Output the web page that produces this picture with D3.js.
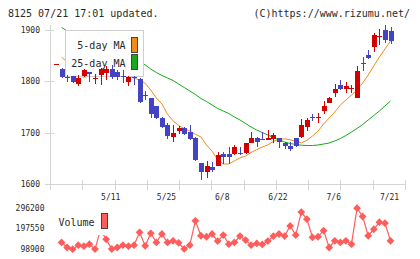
<!DOCTYPE html>
<html>
<head>
<meta charset="utf-8">
<script src="https://cdn.jsdelivr.net/npm/d3@7"></script>
<style>
  body { margin: 0; background: #fff; }
  svg { display: block; }
  text { font-family: "DejaVu Sans Mono", monospace; fill: #2a2a2a; }
</style>
</head>
<body>
<svg></svg>
<script>
const w = 420
const h = 259

// trading days (2023)
const dates = ['4/24','4/25','4/26','4/27','4/28','5/1','5/2','5/8','5/9','5/10',
  '5/11','5/12','5/15','5/16','5/17','5/18','5/19','5/22','5/23','5/24',
  '5/25','5/26','5/29','5/30','5/31','6/1','6/2','6/5','6/6','6/7',
  '6/8','6/9','6/12','6/13','6/14','6/15','6/16','6/19','6/20','6/21',
  '6/22','6/23','6/26','6/27','6/28','6/29','6/30','7/3','7/4','7/5',
  '7/6','7/7','7/10','7/11','7/12','7/13','7/14','7/18','7/19','7/20',
  '7/21']
const open = [1834,1825,1809,1810,1795,1810,1819,1805,1812,1816,
  1825,1819,1810,1799,1809,1804,1774,1767,1751,1729,
  1715,1692,1703,1710,1701,1690,1640,1624,1634,1636,
  1658,1658,1658,1661,1660,1680,1690,1688,1686,1688,
  1689,1680,1675,1689,1692,1712,1731,1730,1742,1758,
  1778,1793,1785,1786,1768,1836,1851,1866,1887,1900,
  1898]
const high = [1834,1826,1813,1811,1812,1824,1819,1814,1826,1830,
  1831,1822,1822,1810,1810,1806,1781,1768,1752,1730,
  1718,1715,1713,1712,1715,1691,1641,1645,1643,1663,
  1663,1673,1676,1673,1680,1702,1692,1701,1705,1699,
  1690,1682,1682,1690,1727,1729,1736,1739,1762,1770,
  1795,1803,1799,1793,1829,1848,1861,1895,1902,1910,
  1906]
const low = [1834,1807,1798,1797,1790,1808,1798,1795,1792,1802,
  1805,1802,1797,1790,1793,1758,1763,1728,1727,1710,
  1688,1682,1697,1696,1686,1645,1608,1612,1624,1635,
  1638,1639,1657,1656,1659,1679,1673,1686,1685,1679,
  1670,1668,1664,1672,1690,1704,1723,1718,1736,1757,
  1770,1783,1778,1777,1767,1821,1843,1858,1871,1874,
  1873]
const close = [1834,1808,1807,1799,1806,1822,1814,1807,1825,1825,
  1808,1809,1808,1809,1806,1760,1772,1736,1728,1712,
  1693,1700,1710,1697,1688,1647,1624,1636,1627,1656,
  1652,1653,1673,1660,1679,1690,1682,1687,1690,1695,
  1682,1675,1668,1675,1715,1725,1729,1731,1752,1768,
  1785,1785,1791,1787,1820,1834,1846,1890,1888,1880,
  1879]
const ma5 = [null,1847,1838,1826,1811,1808,1810,1810,1815,1819,
  1816,1815,1815,1811,1806,1803,1796,1783,1767.5,1756,
  1736,1723,1714,1708,1703,1697,1691.5,1676,1664,1647,
  1639,1639,1645,1651,1654.5,1661.4,1667,1672,1676,1683,
  1687,1688,1686,1683,1680,1685,1693.5,1703,1717,1728.6,
  1740,1754,1763.6,1773.4,1783,1796.7,1812.3,1830,1847.4,1863,
  1878.6]
const ma25 = [null,1905,1898,1893,1889,1885,1881,1877,1872,1868,
  1863,1858,1853,1848,1843,1837.7,1831.9,1824,1817.2,1811.4,
  1806.5,1801.6,1794.8,1788,1781.2,1774.4,1766.6,1760.7,1753.9,1747.1,
  1742.2,1737.3,1730.5,1724.7,1717.9,1711,1705.2,1700.3,1695.5,1690.6,
  1685.7,1681.8,1678.9,1677,1675.6,1675,1675,1676,1677.9,1679.9,
  1683.8,1688.6,1694.5,1701.3,1708.1,1715.9,1724.7,1733.4,1742.2,1751.9,
  1761.7]
const volume = [null,131500,107200,98900,118400,113500,123300,99500,191500,146200,
  99800,107200,118400,113500,118400,180300,115000,175400,131500,172000,
  131500,139300,129600,100200,118400,235300,163700,158800,172000,137900,
  167100,123300,131500,162200,142700,118400,126700,121800,137900,162200,
  172000,162200,211000,167100,277700,243600,155900,158800,188100,107200,
  139300,131500,139300,123300,296200,256300,163700,194900,229000,224100,
  139300]
const dateLabels = ['5/11','5/25','6/8','6/22','7/6','7/21']
const priceTicks = [1600,1700,1800,1900]
const volTicks = [98900,197550,296200]

const upColor = '#d40000'
const downColor = '#4343c3'
const ma5Color = '#f28c18'
const ma25Color = '#18a818'
const volColor = '#ff5c5c'
const axisColor = '#d4d4d4'

const svg = d3.select('svg')
  .attr('width', w)
  .attr('height', h)

const data = dates.map((d, i) => ({
  date: d, o: open[i], h: high[i], l: low[i], c: close[i],
  ma5: ma5[i], ma25: ma25[i], vol: volume[i]
}))

const x = d3.scaleBand()
  .domain(dates)
  .range([53.2, 393.3])
  .padding(0)
const cx = d => x(d) + x.bandwidth() / 2

const y = d3.scaleLinear()
  .domain(d3.extent(priceTicks))
  .range([184, 30])

const yVol = d3.scaleLinear()
  .domain(d3.extent(volTicks))
  .range([249.2, 208.2])

// header
svg.append('text')
  .attr('x', 8).attr('y', 17)
  .style('font-size', '10px')
  .text('8125 07/21 17:01 updated.')
svg.append('text')
  .attr('x', 410).attr('y', 17)
  .attr('text-anchor', 'end')
  .style('font-size', '10px')
  .text('(C)https://www.rizumu.net/')

// axes
const axes = svg.append('g')
  .attr('stroke', axisColor)
  .attr('shape-rendering', 'crispEdges')
axes.append('line')
  .attr('x1', 50.5).attr('x2', 50.5)
  .attr('y1', 25).attr('y2', 190)
axes.append('line')
  .attr('x1', 45).attr('x2', 406)
  .attr('y1', 184.5).attr('y2', 184.5)
axes.selectAll('.yt').data(priceTicks)
  .enter().append('line')
  .attr('x1', 45).attr('x2', 54)
  .attr('y1', d => Math.round(y(d)) + 0.5)
  .attr('y2', d => Math.round(y(d)) + 0.5)

const xTick = d3.scaleLinear().domain([0, 11]).range([50, 405])
axes.selectAll('.xt').data(d3.range(1, 12))
  .enter().append('line')
  .attr('x1', d => Math.round(xTick(d)) + 0.5)
  .attr('x2', d => Math.round(xTick(d)) + 0.5)
  .attr('y1', 180).attr('y2', 190)

svg.selectAll('.ylab').data(priceTicks)
  .enter().append('text')
  .attr('x', 40)
  .attr('y', d => y(d) + 3)
  .attr('text-anchor', 'end')
  .style('font-size', '8px')
  .text(d => d)

svg.selectAll('.xlab').data(dateLabels)
  .enter().append('text')
  .attr('x', d => cx(d) - 1)
  .attr('y', 200)
  .attr('text-anchor', 'middle')
  .style('font-size', '8px')
  .text(d => d)

// moving averages
const lineOf = key => d3.line()
  .defined(d => d[key] != null)
  .x(d => cx(d.date))
  .y(d => y(d[key]))

svg.append('path')
  .attr('d', lineOf('ma25')(data))
  .attr('fill', 'none')
  .attr('stroke', ma25Color)
  .attr('stroke-width', 1)
svg.append('path')
  .attr('d', lineOf('ma5')(data))
  .attr('fill', 'none')
  .attr('stroke', ma5Color)
  .attr('stroke-width', 1)

// legend (covers the lines, candles go over it)
const lg = svg.append('g').attr('shape-rendering', 'crispEdges')
lg.append('rect')
  .attr('x', 65.5).attr('y', 30.5)
  .attr('width', 77.5).attr('height', 46)
  .attr('fill', '#fff').attr('stroke', '#cfcfcf')
const legendItems = [
  { label: '5-day MA', color: ma5Color, ty: 49, ry: 37.5 },
  { label: '25-day MA', color: ma25Color, ty: 66.5, ry: 54.5 }
]
legendItems.forEach(it => {
  lg.append('text')
    .attr('x', 125.5).attr('y', it.ty)
    .attr('text-anchor', 'end')
    .style('font-size', '10px')
    .text(it.label)
  lg.append('rect')
    .attr('x', 131.5).attr('y', it.ry)
    .attr('width', 6).attr('height', 14.5)
    .attr('fill', it.color).attr('stroke', '#444')
})

// candles
const candles = svg.append('g')
  .attr('shape-rendering', 'crispEdges')
  .selectAll('g').data(data)
  .enter().append('g')
  .attr('fill', d => d.c >= d.o ? upColor : downColor)
  .attr('stroke', d => d.c >= d.o ? upColor : downColor)

candles.append('line')
  .attr('x1', d => Math.round(cx(d.date)) + 0.5)
  .attr('x2', d => Math.round(cx(d.date)) + 0.5)
  .attr('y1', d => y(d.h))
  .attr('y2', d => y(d.l))

candles.append('rect')
  .attr('stroke', 'none')
  .attr('x', d => Math.round(cx(d.date)) - 2)
  .attr('width', 5)
  .attr('y', d => y(Math.max(d.o, d.c)))
  .attr('height', d => Math.max(1, Math.abs(y(d.o) - y(d.c))))

// volume panel
svg.selectAll('.vlab').data(volTicks)
  .enter().append('text')
  .attr('x', 44.5)
  .attr('y', d => yVol(d) + 2.6)
  .attr('text-anchor', 'end')
  .style('font-size', '8px')
  .text(d => d)

const volLine = d3.line()
  .defined(d => d.vol != null)
  .x(d => cx(d.date))
  .y(d => yVol(d.vol))

svg.append('path')
  .attr('d', volLine(data))
  .attr('fill', 'none')
  .attr('stroke', volColor)
  .attr('stroke-width', 1.2)

svg.selectAll('.vpt').data(data.filter(d => d.vol != null))
  .enter().append('path')
  .attr('d', 'M0,-3.9L3.9,0L0,3.9L-3.9,0Z')
  .attr('transform', d => `translate(${cx(d.date)},${yVol(d.vol)})`)
  .attr('fill', volColor)

const vlg = svg.append('g').attr('shape-rendering', 'crispEdges')
vlg.append('rect')
  .attr('x', 55).attr('y', 206)
  .attr('width', 56).attr('height', 29)
  .attr('fill', '#fff')
vlg.append('text')
  .attr('x', 58.5).attr('y', 226)
  .style('font-size', '10px')
  .text('Volume')
vlg.append('rect')
  .attr('x', 101.5).attr('y', 213.5)
  .attr('width', 6).attr('height', 14.5)
  .attr('fill', volColor).attr('stroke', '#444')
</script>
</body>
</html>
